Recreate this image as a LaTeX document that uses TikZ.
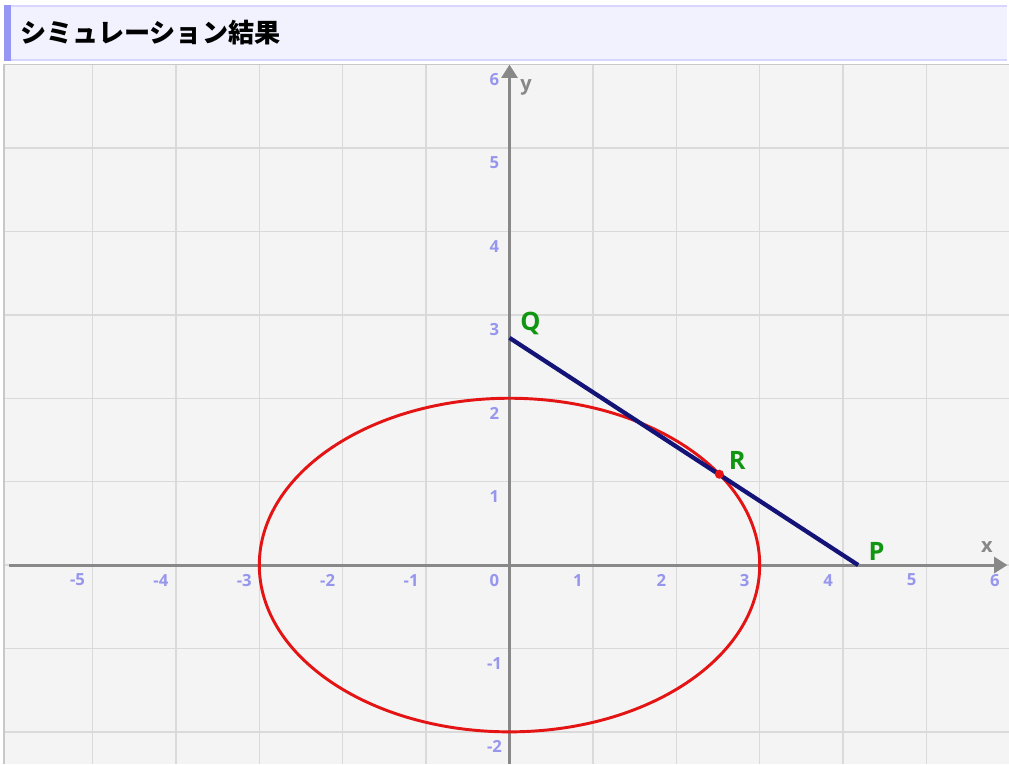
\documentclass[tikz,border=0pt]{standalone}
\usepackage{fontspec}
\setmainfont{Open Sans}
\newfontfamily\jpfont{Noto Sans CJK JP}
\definecolor{simhead}{RGB}{242,242,255}
\definecolor{simheadline}{RGB}{214,214,255}
\definecolor{simaccent}{RGB}{150,150,245}
\definecolor{simbg}{RGB}{244,244,244}
\definecolor{simgrid}{RGB}{218,218,218}
\definecolor{simborder}{RGB}{200,200,200}
\definecolor{simaxis}{RGB}{136,136,136}
\definecolor{simtick}{RGB}{150,150,238}
\definecolor{simnavy}{RGB}{20,20,120}
\definecolor{simred}{RGB}{228,20,20}
\definecolor{simgreen}{RGB}{17,150,17}
\usetikzlibrary{arrows.meta}

\begin{document}
\begin{tikzpicture}[x=62.55pt, y=62.55pt,
  gridline/.style={draw=simgrid, line width=1.1pt},
  axisline/.style={draw=simaxis, line width=2.2pt, -{Triangle[length=10pt,width=12pt]}},
  ticklabel/.style={text=simtick, font=\fontsize{12.5}{12.5}\selectfont\bfseries, inner sep=0pt},
  axislabel/.style={text=simaxis, font=\fontsize{15}{15}\selectfont\bfseries, inner sep=0pt},
  ptlabel/.style={text=simgreen, font=\fontsize{19}{19}\selectfont\bfseries, inner sep=0pt}]
  \useasboundingbox (-6.109,-2.386) rectangle (5.989,6.775);
  \fill[white] (-6.109,-2.386) rectangle (5.989,6.775);

  %% Header bar
  \fill[simhead] (-6.061,6.055) rectangle (5.965,6.703);
  \draw[simheadline, line width=1.2pt] (-6.061,6.703) -- (5.965,6.703);
  \draw[simheadline, line width=1.2pt] (-6.061,6.055) -- (5.965,6.055);
  \fill[simaccent] (-6.061,6.045) rectangle (-5.977,6.713);
  \node[anchor=west, inner sep=0pt, font=\jpfont\fontsize{19.6}{19.6}\selectfont\bfseries] (title) at (-5.87,6.39) {シミュレーション結果};

  %% Plot area and grid
  \fill[simbg] (-6.05,-2.386) rectangle (5.989,6.0);
  \draw[simborder, line width=1pt] (-6.06,-2.386) -- (-6.06,6.0) -- (5.989,6.0);
  \foreach \gx in {-5,...,5}
    \draw[gridline] (\gx,-2.386) -- (\gx,6);
  \foreach \gy in {-2,...,5}
    \draw[gridline] (-6.05,\gy) -- (5.989,\gy);

  %% Axes
  \draw[axisline] (-6.0,0) -- (5.97,0);
  \draw[axisline] (0,-2.386) -- (0,6.0);
  \node[axislabel] (xlabel) at (5.725,0.216) {x};
  \node[axislabel] (ylabel) at (0.198,5.731) {y};

  %% Tick labels
  \foreach \t in {-5,-4,-3,-2,-1,1,2,3,4,5,6}
    \node[ticklabel] at (\t-0.18,-0.18) {\t};
  \foreach \t in {-2,-1,1,2,3,4,5,6}
    \node[ticklabel] at (-0.18,\t-0.18) {\t};
  \node[ticklabel] at (-0.18,-0.18) {0};

  %% Ellipse and segment
  \draw[simred, line width=2.2pt] (0,0) ellipse [x radius=3, y radius=2];
  \coordinate (Q) at (0,2.724);
  \coordinate (P) at (4.18,0);
  \coordinate (R) at (2.516,1.089);
  \draw[simnavy, line width=3.2pt] (Q) -- (P);
  \fill[simred] (R) circle [radius=3.4pt];
  \node[ptlabel] (qname) at (0.25,2.90) {Q};
  \node[ptlabel] (rname) at (2.73,1.25) {R};
  \node[ptlabel] (pname) at (4.40,0.16) {P};
\end{tikzpicture}
\end{document}
